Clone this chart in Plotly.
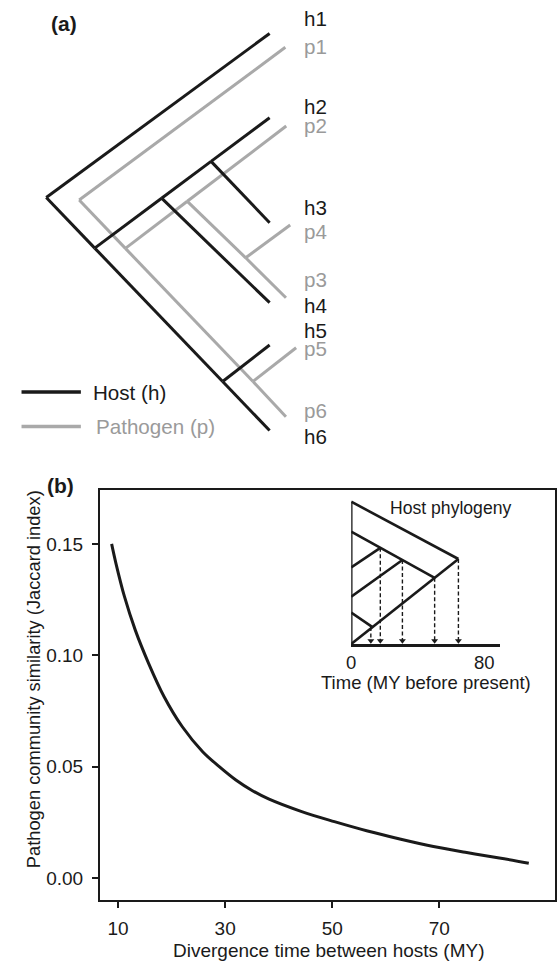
import plotly.graph_objects as go

W, H = 557, 961
FONT = "Liberation Sans, Arial, Helvetica, sans-serif"
BLACK = "#1a1a1a"
GREY_LINE = "#a9a9a9"
GREY_TEXT = "#9a9a9a"

# ---------------- Panel (a): co-phylogeny (layout units of the schematic) ----------------
host_node_names = ["root", "n1", "n2", "n3", "n4", "h1", "h2", "h3", "h4", "h5", "h6"]
host_node_x = [41.7, 90.7, 158.3, 208.3, 220.0, 267.5, 267.5, 267.5, 267.5, 267.5, 267.5]
host_node_y = [197.5, 248.1, 198.2, 161.4, 381.5, 33.5, 117.7, 222.7, 302.7, 345.0, 430.5]
host_edges = [("root", "h1"), ("root", "n1"), ("n1", "n4"), ("n4", "h6"), ("n1", "n2"),
              ("n2", "n3"), ("n3", "h2"), ("n2", "h4"), ("n3", "h3"), ("n4", "h5")]

path_node_names = ["root", "n1", "n2", "n3", "n4", "p1", "p2", "p3", "p4", "p5", "p6"]
path_node_x = [75.0, 121.7, 184.3, 243.3, 250.7, 283.4, 284.3, 284.0, 288.3, 294.3, 284.0]
path_node_y = [200.0, 248.4, 201.3, 257.8, 381.5, 47.3, 126.0, 297.7, 225.0, 347.7, 416.7]
path_edges = [("root", "p1"), ("root", "n1"), ("n1", "n4"), ("n4", "p6"), ("n1", "n2"),
              ("n2", "p2"), ("n2", "n3"), ("n3", "p3"), ("n3", "p4"), ("n4", "p5")]

tip_labels = ["h1", "p1", "h2", "p2", "h3", "p4", "p3", "h4", "h5", "p5", "p6", "h6"]
tip_label_y = [18.5, 46.0, 106.5, 125.0, 207.0, 231.5, 279.0, 305.0, 330.0, 348.5, 410.5, 436.0]
tip_label_kind = ["h", "p", "h", "p", "h", "p", "p", "h", "h", "p", "p", "h"]

legend_labels = ["Host (h)", "Pathogen (p)"]
legend_y = [392.0, 426.5]

# ---------------- Panel (b): main curve ----------------
div_time = [8.8, 9.6, 11.2, 13.2, 15.7, 18.6, 22.0, 25.8, 28.9, 32.0, 35.1, 38.1,
            44.3, 50.4, 56.6, 62.8, 68.9, 75.1, 81.2, 86.7]
jaccard = [0.150, 0.1413, 0.1263, 0.1114, 0.0964, 0.0814, 0.0679, 0.0567, 0.0500, 0.0440,
           0.0392, 0.0355, 0.0298, 0.0253, 0.0211, 0.0174, 0.0141, 0.0114, 0.0090, 0.0066]
x_ticks = [10, 30, 50, 70]
y_ticks = [0.00, 0.05, 0.10, 0.15]
y_tick_text = ["0.00", "0.05", "0.10", "0.15"]

# ---------------- Inset: host phylogeny (time in MY before present) ----------------
ins_node_names = ["root", "A", "B", "C", "D", "t1", "t2", "t3", "t4", "t5", "t6"]
ins_node_t = [64.5, 50.2, 17.5, 30.8, 12.8, 0, 0, 0, 0, 0, 0]
ins_node_y = [85.0, 66.2, 96.2, 84.0, 16.9, 142.3, 112.3, 76.7, 47.3, 31.3, 0.0]
ins_edges = [("root", "t1"), ("root", "t6"), ("A", "t2"), ("C", "t4"), ("B", "t3"), ("D", "t5"),
             ("t6", "t1")]
ins_arrow_nodes = ["D", "B", "C", "A", "root"]
ins_arrow_t = [11.8, 17.5, 30.8, 50.2, 64.5]
ins_ticks = [0, 80]


def px(x):
    return x / W


def py(y):
    return 1 - y / H


def segs(names, xs, ys, edges):
    pos = {n: (x, y) for n, x, y in zip(names, xs, ys)}
    sx, sy = [], []
    for a, b in edges:
        sx += [pos[a][0], pos[b][0], None]
        sy += [pos[a][1], pos[b][1], None]
    return sx, sy, pos


A_SIZE = 20.6   # panel (a) text size
fig = go.Figure()

# Panel (a) trees
hx, hy, _ = segs(host_node_names, host_node_x, host_node_y, host_edges)
pxs, pys, _ = segs(path_node_names, path_node_x, path_node_y, path_edges)
fig.add_trace(go.Scatter(x=pxs, y=pys, mode="lines", line=dict(color=GREY_LINE, width=3),
                         xaxis="x2", yaxis="y2", hoverinfo="skip", showlegend=False))
fig.add_trace(go.Scatter(x=hx, y=hy, mode="lines", line=dict(color=BLACK, width=3),
                         xaxis="x2", yaxis="y2", hoverinfo="skip", showlegend=False))

# Panel (a) legend
for lab, ly, col, tcol in zip(legend_labels, legend_y, [BLACK, GREY_LINE], [BLACK, GREY_TEXT]):
    fig.add_trace(go.Scatter(x=[16.7, 76.7], y=[ly, ly], mode="lines",
                             line=dict(color=col, width=3.5), xaxis="x2", yaxis="y2",
                             hoverinfo="skip", showlegend=False))
    fig.add_annotation(x=86.5 if lab.startswith("Host") else 89.5, y=ly, xref="x2", yref="y2",
                       text=lab, showarrow=False, xanchor="left", yanchor="middle",
                       font=dict(family=FONT, size=A_SIZE, color=tcol))

# Tip labels
for lab, ly, kind in zip(tip_labels, tip_label_y, tip_label_kind):
    fig.add_annotation(x=300.5, y=ly, xref="x2", yref="y2", text=lab, showarrow=False,
                       xanchor="left", yanchor="middle",
                       font=dict(family=FONT, size=A_SIZE, color=BLACK if kind == "h" else GREY_TEXT))

# Panel (b) main curve
fig.add_trace(go.Scatter(x=div_time, y=jaccard, mode="lines",
                         line=dict(color=BLACK, width=3, shape="spline", smoothing=1.0),
                         xaxis="x", yaxis="y", hoverinfo="skip", showlegend=False))

# Inset tree
ix, iy, ipos = segs(ins_node_names, ins_node_t, ins_node_y, ins_edges)
fig.add_trace(go.Scatter(x=ix, y=iy, mode="lines", line=dict(color=BLACK, width=2.6),
                         xaxis="x3", yaxis="y3", hoverinfo="skip", showlegend=False))
ax_, ay_ = [], []
for n, t in zip(ins_arrow_nodes, ins_arrow_t):
    ax_ += [t, t, None]
    ay_ += [ipos[n][1], 3, None]
fig.add_trace(go.Scatter(x=ax_, y=ay_, mode="lines",
                         line=dict(color=BLACK, width=1.4, dash="4px,2.5px"),
                         xaxis="x3", yaxis="y3", hoverinfo="skip", showlegend=False))
fig.add_trace(go.Scatter(x=ins_arrow_t, y=[3.2] * len(ins_arrow_t), mode="markers",
                         marker=dict(symbol="triangle-down", size=6, color=BLACK, line=dict(width=0)),
                         xaxis="x3", yaxis="y3", hoverinfo="skip", showlegend=False))

axis_font = dict(family=FONT, size=19, color=BLACK)
inset_font = dict(family=FONT, size=18.5, color=BLACK)

fig.update_layout(
    width=W, height=H, margin=dict(l=0, r=0, t=0, b=0),
    paper_bgcolor="white", plot_bgcolor="rgba(0,0,0,0)",
    font=dict(family=FONT, size=19, color=BLACK),
    xaxis=dict(domain=[px(96), px(556)], range=[6.62, 91.6], tickvals=x_ticks,
               ticks="outside", ticklen=6, tickwidth=2, tickcolor=BLACK,
               showline=True, linewidth=2, linecolor=BLACK, mirror=True, ticklabelstandoff=4,
               showgrid=False, zeroline=False, tickfont=axis_font, anchor="y"),
    yaxis=dict(domain=[py(900), py(490)], range=[-0.00988, 0.1742], tickvals=y_ticks,
               ticktext=y_tick_text, ticks="outside", ticklen=6, tickwidth=2, tickcolor=BLACK,
               showline=True, linewidth=2, linecolor=BLACK, mirror=True, ticklabelstandoff=5,
               showgrid=False, zeroline=False, tickfont=axis_font, anchor="x"),
    xaxis2=dict(domain=[0, 1], range=[0, W], visible=False, anchor="y2"),
    yaxis2=dict(domain=[py(470), 1], range=[470, 0], visible=False, anchor="x2"),
    xaxis3=dict(domain=[px(350), px(500)], range=[0, 89.3], tickvals=ins_ticks,
                ticks="", showline=True, linewidth=2.6, linecolor=BLACK,
                showgrid=False, zeroline=False, tickfont=inset_font, anchor="y3"),
    yaxis3=dict(domain=[py(644), py(495)], range=[0, 149], visible=False, anchor="x3"),
)

# Titles / panel letters
fig.add_annotation(x=px(328), y=py(950.5), xref="paper", yref="paper",
                   text="Divergence time between hosts (MY)", showarrow=False,
                   xanchor="center", yanchor="middle", font=axis_font)
fig.add_annotation(x=px(28.5), y=py(679), xref="paper", yref="paper",
                   text="Pathogen community similarity (Jaccard index)", showarrow=False,
                   textangle=-90, xanchor="center", yanchor="middle",
                   font=dict(family=FONT, size=18.3, color=BLACK))
fig.add_annotation(x=px(450), y=py(508), xref="paper", yref="paper", text="Host phylogeny",
                   showarrow=False, xanchor="center", yanchor="middle",
                   font=dict(family=FONT, size=17.6, color=BLACK))
fig.add_annotation(x=px(425.5), y=py(682), xref="paper", yref="paper",
                   text="Time (MY before present)", showarrow=False,
                   xanchor="center", yanchor="middle", font=inset_font)
fig.add_annotation(x=px(59.5), y=py(23), xref="paper", yref="paper", text="<b>(a)</b>",
                   showarrow=False, xanchor="center", yanchor="middle",
                   font=dict(family=FONT, size=21, color=BLACK))
fig.add_annotation(x=px(56), y=py(485), xref="paper", yref="paper", text="<b>(b)</b>",
                   showarrow=False, xanchor="center", yanchor="middle",
                   font=dict(family=FONT, size=21, color=BLACK))

fig.write_html("out.html", config={"displayModeBar": False},
               post_script="document.body.style.margin='0';document.body.style.overflow='hidden';")
